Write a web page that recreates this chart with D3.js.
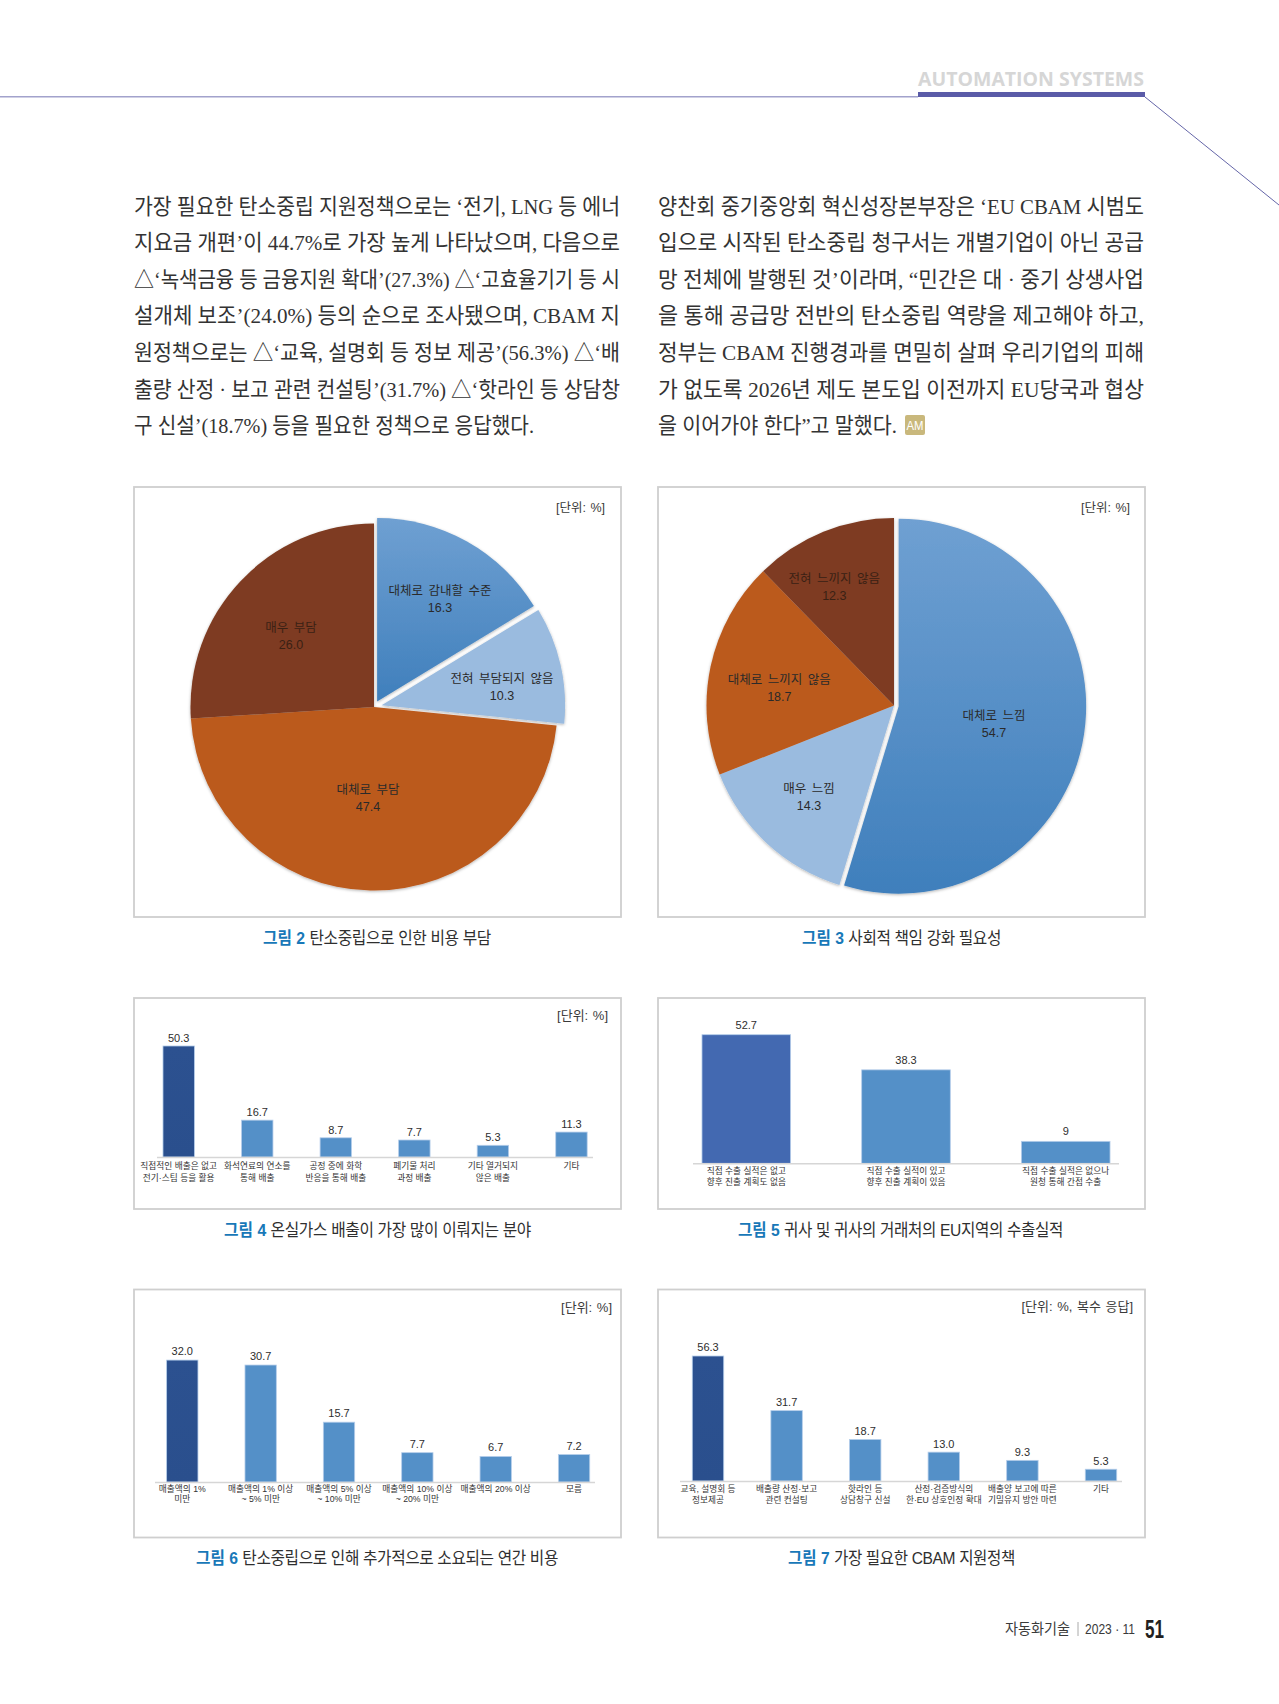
<!DOCTYPE html>
<html lang="ko"><head><meta charset="utf-8">
<script src="https://cdn.jsdelivr.net/npm/d3@7/dist/d3.min.js"></script>
<style>html,body{margin:0;background:#fff}svg{display:block}text{font-family:"Liberation Sans","Noto Sans CJK KR",sans-serif}</style>
</head><body><div id="c"></div>
<script>
// ---------- data ----------
const pie2Labels = ["대체로 감내할 수준","전혀 부담되지 않음","대체로 부담","매우 부담"];
const pie2Values = [16.3,10.3,47.4,26.0];
const pie3Labels = ["대체로 느낌","매우 느낌","대체로 느끼지 않음","전혀 느끼지 않음"];
const pie3Values = [54.7,14.3,18.7,12.3];
const bar4Labels = [["직접적인 배출은 없고","전기·스팀 등을 활용"],["화석연료의 연소를","통해 배출"],["공정 중에 화학","반응을 통해 배출"],["폐기물 처리","과정 배출"],["기타 열거되지","않은 배출"],["기타"]];
const bar4Values = [50.3,16.7,8.7,7.7,5.3,11.3];
const bar5Labels = [["직접 수출 실적은 없고","향후 진출 계획도 없음"],["직접 수출 실적이 있고","향후 진출 계획이 있음"],["직접 수출 실적은 없으나","원청 통해 간접 수출"]];
const bar5Values = [52.7,38.3,9];
const bar6Labels = [["매출액의 1%","미만"],["매출액의 1% 이상","~ 5% 미만"],["매출액의 5% 이상","~ 10% 미만"],["매출액의 10% 이상","~ 20% 미만"],["매출액의 20% 이상"],["모름"]];
const bar6Values = [32.0,30.7,15.7,7.7,6.7,7.2];
const bar7Labels = [["교육, 설명회 등","정보제공"],["배출량 산정·보고","관련 컨설팅"],["핫라인 등","상담창구 신설"],["산정·검증방식의","한·EU 상호인정 확대"],["배출양 보고에 따른","기밀유지 방안 마련"],["기타"]];
const bar7Values = [56.3,31.7,18.7,13.0,9.3,5.3];
const bodyLeft = ["가장 필요한 탄소중립 지원정책으로는 ‘전기, LNG 등 에너","지요금 개편’이 44.7%로 가장 높게 나타났으며, 다음으로","△‘녹색금융 등 금융지원 확대’(27.3%) △‘고효율기기 등 시","설개체 보조’(24.0%) 등의 순으로 조사됐으며, CBAM 지","원정책으로는 △‘교육, 설명회 등 정보 제공’(56.3%) △‘배","출량 산정 · 보고 관련 컨설팅’(31.7%) △‘핫라인 등 상담창","구 신설’(18.7%) 등을 필요한 정책으로 응답했다."];
const bodyRight = ["양찬회 중기중앙회 혁신성장본부장은 ‘EU CBAM 시범도","입으로 시작된 탄소중립 청구서는 개별기업이 아닌 공급","망 전체에 발행된 것’이라며, “민간은 대 · 중기 상생사업","을 통해 공급망 전반의 탄소중립 역량을 제고해야 하고,","정부는 CBAM 진행경과를 면밀히 살펴 우리기업의 피해","가 없도록 2026년 제도 본도입 이전까지 EU당국과 협상","을 이어가야 한다”고 말했다."];

// ---------- page ----------
const svg = d3.select("#c").append("svg").attr("width",1279).attr("height",1704);
const defs = svg.append("defs");
const grad = (id,a,b)=>{const g=defs.append("linearGradient").attr("id",id).attr("x1",0).attr("y1",0).attr("x2",0).attr("y2",1);
  g.append("stop").attr("offset",0).attr("stop-color",a);g.append("stop").attr("offset",1).attr("stop-color",b);};
grad("blueG","#6fa0d2","#3f7fbc");
grad("darkG","#2c5190","#2a4f8d");
const sh=defs.append("filter").attr("id","sh").attr("x","-10%").attr("y","-10%").attr("width","120%").attr("height","120%");
sh.append("feDropShadow").attr("dx",0).attr("dy",1).attr("stdDeviation",1.6).attr("flood-color","#000").attr("flood-opacity",.3);
svg.append("rect").attr("width",1279).attr("height",1704).attr("fill","#fff");

// header
svg.append("line").attr("x1",0).attr("x2",918).attr("y1",96.7).attr("y2",96.7).attr("stroke","#a2a2cc").attr("stroke-width",1.6);
svg.append("rect").attr("x",918).attr("y",92).attr("width",227).attr("height",5).attr("fill","#5a5ba8");
svg.append("line").attr("x1",1145).attr("y1",97).attr("x2",1279).attr("y2",205).attr("stroke","#6566a8").attr("stroke-width",1);
svg.append("text").attr("x",918).attr("y",86).attr("textLength",226).attr("lengthAdjust","spacingAndGlyphs")
  .attr("font-size",20).attr("font-weight",700).attr("fill","#d6d6d6").style("font-family","'Open Sans'").text("AUTOMATION SYSTEMS");

// body text
const bodyFont = "'Liberation Serif','Noto Sans CJK KR',serif";
function body(lines,x,fullW,lastW){
  svg.append("g").selectAll("text").data(lines).join("text")
    .attr("x",x).attr("y",(d,i)=>213.5+i*36.65)
    .attr("textLength",(d,i)=>i===lines.length-1?lastW:fullW).attr("lengthAdjust","spacingAndGlyphs")
    .attr("font-size",22).attr("font-weight",400).attr("fill","#333").style("font-family",bodyFont).text(d=>d);
}
body(bodyLeft,134,486,400);
body(bodyRight,658,486,239);
svg.append("rect").attr("x",905).attr("y",415).attr("width",20).attr("height",20).attr("rx",2).attr("fill","#c9b87c");
svg.append("text").attr("x",915).attr("y",430).attr("text-anchor","middle").attr("font-size",13).attr("fill","#fff").attr("textLength",17).attr("lengthAdjust","spacingAndGlyphs").text("AM");

// helpers
function panel(x0,x1,y0,y1){
  svg.append("rect").attr("x",x0).attr("y",y0).attr("width",x1-x0).attr("height",y1-y0).attr("fill","#fff").attr("stroke","#cfcfcf").attr("stroke-width",1.8);
}
function unit(txt,xr,y,fs){
  svg.append("text").attr("x",xr).attr("y",y).attr("dy","0.36em").attr("text-anchor","end").attr("font-size",fs).attr("fill","#3a3a3a").attr("word-spacing",1).text(txt);
}
function caption(head,rest,x0,x1,y){
  const t=svg.append("text").attr("x",x0).attr("y",y).attr("dy","0.36em").attr("font-size",17).attr("textLength",x1-x0).attr("lengthAdjust","spacingAndGlyphs");
  t.append("tspan").attr("fill","#1878b8").attr("font-weight",700).text(head+" ");
  t.append("tspan").attr("fill","#2f2f2f").attr("letter-spacing",-0.4).text(rest);
}
const labelColor=f=>f==="#7e3b20"?"#3a2114":"#2a2a2a";
function pieChart(cx,cy,R,labels,values,fills,explode,labelPos){
  const slices=d3.pie().sort(null)(values);
  const arc=d3.arc().innerRadius(0).outerRadius(R);
  const g=svg.append("g").attr("transform",`translate(${cx},${cy})`);
  g.append("g").attr("filter","url(#sh)").selectAll("path").data(slices).join("path")
    .attr("transform",(d,i)=>{const m=(d.startAngle+d.endAngle)/2,e=explode[i];return `translate(${Math.sin(m)*e},${-Math.cos(m)*e})`;})
    .attr("d",arc).attr("fill",(d,i)=>fills[i]);
  const tg=g.append("g").selectAll("g").data(slices).join("g").attr("transform",(d,i)=>`translate(${labelPos[i][0]},${labelPos[i][1]})`);
  tg.append("text").attr("y",-8.5).attr("dy","0.36em").attr("text-anchor","middle").attr("font-size",12.5).attr("word-spacing",2).attr("fill",(d,i)=>labelColor(fills[i])).text((d,i)=>labels[i]);
  tg.append("text").attr("y",8.6).attr("dy","0.36em").attr("text-anchor","middle").attr("font-size",12.5).attr("fill",(d,i)=>labelColor(fills[i])).text(d=>d.value.toFixed(1));
}
function barChart(o){
  const x=d3.scaleBand().domain(d3.range(o.values.length)).range([o.c0-o.step/2,o.c0-o.step/2+o.step*o.values.length]).paddingInner(o.pad).paddingOuter(o.pad/2);
  const y=d3.scaleLinear().domain([0,o.max]).range([o.base,o.base-o.k*o.max]);
  const g=svg.append("g");
  g.selectAll("rect").data(o.values).join("rect")
    .attr("x",(d,i)=>x(i)).attr("width",x.bandwidth()).attr("y",d=>y(d)).attr("height",d=>y(0)-y(d))
    .attr("fill",(d,i)=>i===0?o.first:"#5490c8").attr("stroke","#b5cdea").attr("stroke-width",.8);
  g.selectAll("text.v").data(o.values).join("text").attr("class","v")
    .attr("x",(d,i)=>x(i)+x.bandwidth()/2).attr("y",d=>y(d)-o.gap).attr("dy","0.36em").attr("text-anchor","middle")
    .attr("font-size",11).attr("fill","#2e2e2e").text((d,i)=>o.fmt[i]);
  const ax=g.append("g").attr("transform",`translate(0,${o.base})`)
    .call(d3.axisBottom(x).tickSize(0).tickFormat(""));
  ax.select(".domain").remove();
  ax.append("line").attr("x1",o.ax0).attr("x2",o.ax1).attr("y1",.5).attr("y2",.5).attr("stroke","#d6d6d6").attr("stroke-width",1.6);
  ax.selectAll(".tick text").each(function(i){
    const t=d3.select(this).attr("y",0).attr("dy",null).attr("font-size",8.7).attr("fill","#333").attr("text-anchor","middle");
    o.labels[i].forEach((line,j)=>t.append("tspan").attr("x",0).attr("y",o.l1+j*o.lh).attr("dy","0.36em").text(line));
  });
}

// panels
panel(134,621,487,917); panel(658,1145,487,917);
panel(134,621,998,1209); panel(658,1145,998,1209);
panel(134,621,1289.5,1537.5); panel(658,1145,1289.5,1537.5);

const pieFills=["url(#blueG)","#9abbdf","#bb5a1e","#7e3b20"];
pieChart(374,707,183.5,pie2Labels,pie2Values,pieFills,[6.4,7.8,0,0],[[66,-108],[128,-20],[-6,91],[-83,-71]]);
pieChart(894,705.5,187.5,pie3Labels,pie3Values,pieFills,[4.7,0,0,0],[[100,18],[-85,91],[-114.7,-18],[-59.7,-119]]);
unit("[단위: %]",605,507,12.5); unit("[단위: %]",1130,507,12.5);
unit("[단위: %]",608,1015,13); unit("[단위: %]",612,1307,13); unit("[단위: %, 복수 응답]",1133,1306,13);

barChart({labels:bar4Labels,values:bar4Values,fmt:bar4Values.map(v=>v.toFixed(1)),c0:178.7,step:78.55,pad:.6,max:60,k:2.207,base:1157,first:"url(#darkG)",ax0:157,ax1:593,l1:1166-1157,lh:11.7,gap:8});
barChart({labels:bar5Labels,values:bar5Values,fmt:bar5Values.map(String),c0:746.3,step:159.7,pad:.445,max:60,k:2.44,base:1163.3,first:"#4369b1",ax0:693,ax1:1119,l1:1171.3-1163.3,lh:11,gap:10});
barChart({labels:bar6Labels,values:bar6Values,fmt:bar6Values.map(v=>v.toFixed(1)),c0:182.3,step:78.35,pad:.6,max:40,k:3.81,base:1482,first:"url(#darkG)",ax0:155,ax1:595,l1:1489.3-1482,lh:10,gap:9});
barChart({labels:bar7Labels,values:bar7Values,fmt:bar7Values.map(v=>v.toFixed(1)),c0:708,step:78.6,pad:.6,max:60,k:2.22,base:1481,first:"url(#darkG)",ax0:680,ax1:1122,l1:1489.3-1481,lh:10.8,gap:8.5});

caption("그림 2","탄소중립으로 인한 비용 부담",263,491,937.7);
caption("그림 3","사회적 책임 강화 필요성",802,1001,937.7);
caption("그림 4","온실가스 배출이 가장 많이 이뤄지는 분야",224,531,1230);
caption("그림 5","귀사 및 귀사의 거래처의 EU지역의 수출실적",738,1063,1230);
caption("그림 6","탄소중립으로 인해 추가적으로 소요되는 연간 비용",196,558,1558);
caption("그림 7","가장 필요한 CBAM 지원정책",788,1015,1558);

// footer
svg.append("text").attr("x",1005).attr("y",1629).attr("dy","0.36em").attr("font-size",14.5).attr("fill","#3a3a3a").attr("textLength",65).attr("lengthAdjust","spacingAndGlyphs").text("자동화기술");
svg.append("line").attr("x1",1078).attr("x2",1078).attr("y1",1622).attr("y2",1636).attr("stroke","#aaa");
svg.append("text").attr("x",1085).attr("y",1629).attr("dy","0.36em").attr("font-size",14.5).attr("fill","#3a3a3a").attr("textLength",50).attr("lengthAdjust","spacingAndGlyphs").text("2023 · 11");
svg.append("text").attr("x",1145).attr("y",1629).attr("dy","0.36em").attr("font-size",25).attr("font-weight",700).attr("fill","#231f20").attr("textLength",19).attr("lengthAdjust","spacingAndGlyphs").text("51");
</script></body></html>
